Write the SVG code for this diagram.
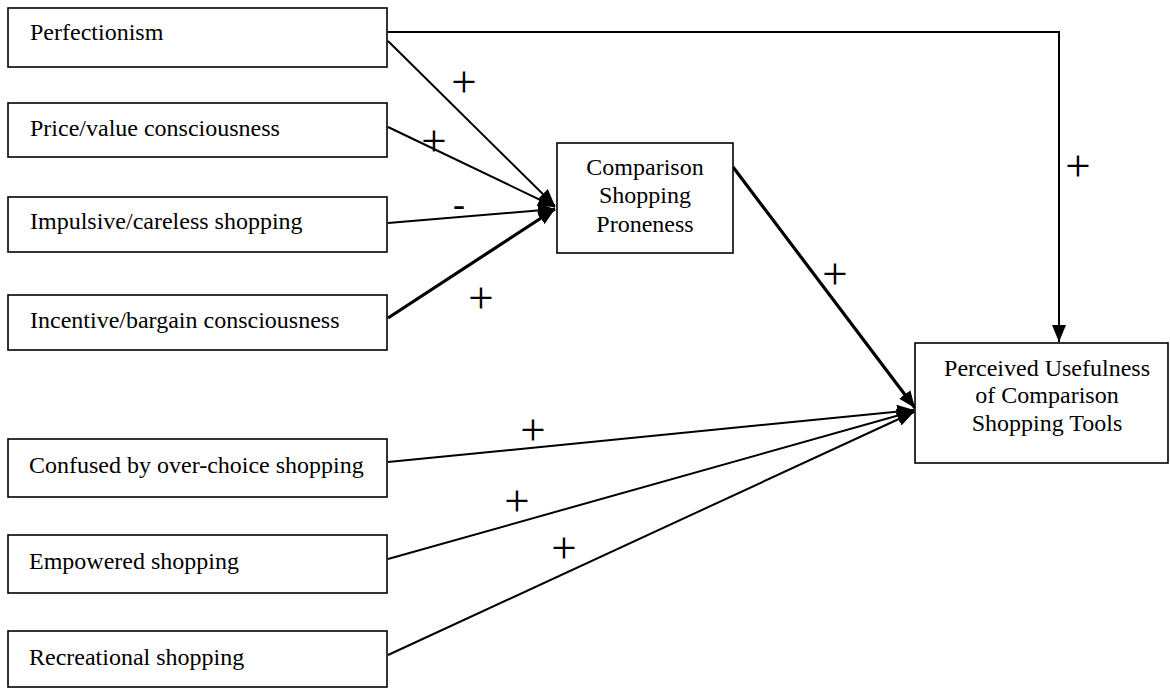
<svg xmlns="http://www.w3.org/2000/svg" width="1170" height="688" viewBox="0 0 1170 688">
<style>
.box{fill:#fff;stroke:#000;stroke-width:1.6}
.t{font-family:"Liberation Serif","Times New Roman",serif;font-size:24px;fill:#000}
.c{text-anchor:middle}
.s{font-family:"Liberation Serif","Times New Roman",serif;font-size:45px;fill:#000;text-anchor:middle}
.m{font-size:36px}
.ln{fill:none;stroke:#000;stroke-width:2}
.thick{stroke-width:3.2}
</style>
<defs>
<marker id="ah" markerUnits="userSpaceOnUse" markerWidth="18" markerHeight="14" refX="17" refY="7" orient="auto">
<path d="M0,0 L17,7 L0,14 z" fill="#000"/>
</marker>
</defs>
<rect width="1170" height="688" fill="#fff"/>
<g id="connectors">
<polyline class="ln" points="388,32 1059,32 1059,342" marker-end="url(#ah)"/>
<line class="ln" x1="388" y1="41" x2="555" y2="206" marker-end="url(#ah)"/>
<line class="ln" x1="388" y1="127" x2="555" y2="207" marker-end="url(#ah)"/>
<line class="ln" x1="388" y1="223" x2="555" y2="209" marker-end="url(#ah)"/>
<line class="ln thick" x1="388" y1="318" x2="555" y2="209" marker-end="url(#ah)"/>
<line class="ln thick" x1="733" y1="167" x2="915" y2="408" marker-end="url(#ah)"/>
<line class="ln" x1="388" y1="462" x2="914" y2="410" marker-end="url(#ah)"/>
<line class="ln" x1="388" y1="559" x2="914" y2="411" marker-end="url(#ah)"/>
<line class="ln" x1="388" y1="655" x2="914" y2="412" marker-end="url(#ah)"/>
</g>
<g id="signs">
<text class="s" x="464" y="97">+</text>
<text class="s" x="434" y="156">+</text>
<text class="s m" x="459" y="216">-</text>
<text class="s" x="481" y="313">+</text>
<text class="s" x="835" y="289">+</text>
<text class="s" x="1078" y="181">+</text>
<text class="s" x="533" y="445">+</text>
<text class="s" x="517" y="516">+</text>
<text class="s" x="564" y="563">+</text>
</g>
<g id="perfectionism">
<rect class="box" x="8" y="8" width="379" height="59"/>
<text class="t" x="30" y="40">Perfectionism</text>
</g>
<g id="price">
<rect class="box" x="8" y="103" width="379" height="54"/>
<text class="t" x="30" y="136">Price/value consciousness</text>
</g>
<g id="impulsive">
<rect class="box" x="8" y="197" width="379" height="55"/>
<text class="t" x="30" y="229">Impulsive/careless shopping</text>
</g>
<g id="incentive">
<rect class="box" x="8" y="295" width="379" height="55"/>
<text class="t" x="30" y="328">Incentive/bargain consciousness</text>
</g>
<g id="confused">
<rect class="box" x="8" y="439" width="379" height="58"/>
<text class="t" x="29" y="473">Confused by over-choice shopping</text>
</g>
<g id="empowered">
<rect class="box" x="8" y="535" width="379" height="58"/>
<text class="t" x="29" y="569">Empowered shopping</text>
</g>
<g id="recreational">
<rect class="box" x="8" y="631" width="379" height="56"/>
<text class="t" x="29" y="665">Recreational shopping</text>
</g>
<g id="comparison">
<rect class="box" x="557" y="143" width="176" height="110"/>
<text class="t c" x="645" y="175">Comparison</text>
<text class="t c" x="645" y="203">Shopping</text>
<text class="t c" x="645" y="232">Proneness</text>
</g>
<g id="perceived">
<rect class="box" x="915" y="343" width="253" height="120"/>
<text class="t c" x="1047" y="376">Perceived Usefulness</text>
<text class="t c" x="1047" y="403">of Comparison</text>
<text class="t c" x="1047" y="431">Shopping Tools</text>
</g>
</svg>
